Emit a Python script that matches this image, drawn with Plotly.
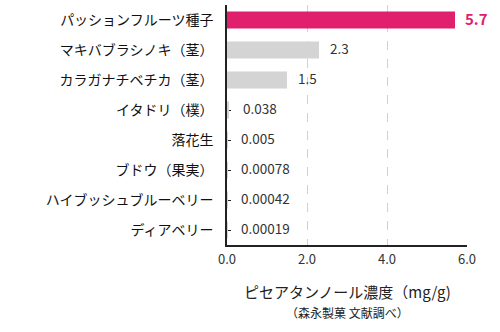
import plotly.graph_objects as go

categories = ["パッションフルーツ種子", "マキバブラシノキ（茎）", "カラガナチベチカ（茎）", "イタドリ（樸）",
              "落花生", "ブドウ（果実）", "ハイブッシュブルーベリー", "ディアベリー"]
values = [5.7, 2.3, 1.5, 0.038, 0.005, 0.00078, 0.00042, 0.00019]
value_labels = ["5.7", "2.3", "1.5", "0.038", "0.005", "0.00078", "0.00042", "0.00019"]
x_ticks = [0, 2, 4, 6]
x_tick_labels = ["0.0", "2.0", "4.0", "6.0"]

PINK = "#E0206C"
GRAY = "#D4D4D4"
FONT = "Noto Sans CJK JP"
colors = [PINK] + [GRAY] * (len(categories) - 1)

fig = go.Figure()
fig.add_trace(go.Bar(
    x=values, y=categories, orientation="h",
    marker=dict(color=colors, line=dict(width=0)),
    width=0.57, hoverinfo="skip",
))

for i, (c, v, lab) in enumerate(zip(categories, values, value_labels)):
    if i == 0:
        fig.add_annotation(x=v, y=c, text="<b>" + lab + "</b>", showarrow=False,
                           xanchor="left", xshift=8, yshift=2,
                           font=dict(family=FONT, size=15, color=PINK))
    else:
        fig.add_annotation(x=v, y=c, text=lab, showarrow=False,
                           xanchor="left", xshift=9 if v > 0.1 else 12, yshift=2,
                           font=dict(family=FONT, size=13.5, color="#333333"))

fig.add_annotation(x=0.5, xref="paper", y=0, yref="paper", yanchor="top", yshift=-34,
                   text="ピセアタンノール濃度（mg/g)", showarrow=False,
                   font=dict(family=FONT, size=15, color="#222222"))
fig.add_annotation(x=0.5, xref="paper", y=0, yref="paper", yanchor="top", yshift=-57,
                   text="（森永製菓 文献調べ）", showarrow=False,
                   font=dict(family=FONT, size=12, color="#222222"))

fig.update_layout(
    width=500, height=332,
    margin=dict(l=227, r=33, t=5, b=87),
    paper_bgcolor="white", plot_bgcolor="white",
    showlegend=False,
    font=dict(family=FONT, size=13, color="#222222"),
    xaxis=dict(range=[0, 6], tickvals=x_ticks, ticktext=x_tick_labels,
               showgrid=True, gridcolor="#D0D0D0", griddash="dash", gridwidth=1,
               zeroline=False, showline=True, linecolor="#222222", linewidth=1.5,
               ticks="", ticklabelstandoff=2,
               tickfont=dict(family=FONT, size=13, color="#333333")),
    yaxis=dict(autorange=False, range=[7.5, -0.5], categoryorder="array", categoryarray=categories,
               showgrid=False, zeroline=False, showline=True, linecolor="#222222", linewidth=1.5,
               ticks="inside", ticklen=4, tickcolor="#222222", tickwidth=1.2, ticklabelstandoff=9,
               layer="below traces",
               tickfont=dict(family=FONT, size=14, color="#111111")),
)

fig.write_html("out.html")
